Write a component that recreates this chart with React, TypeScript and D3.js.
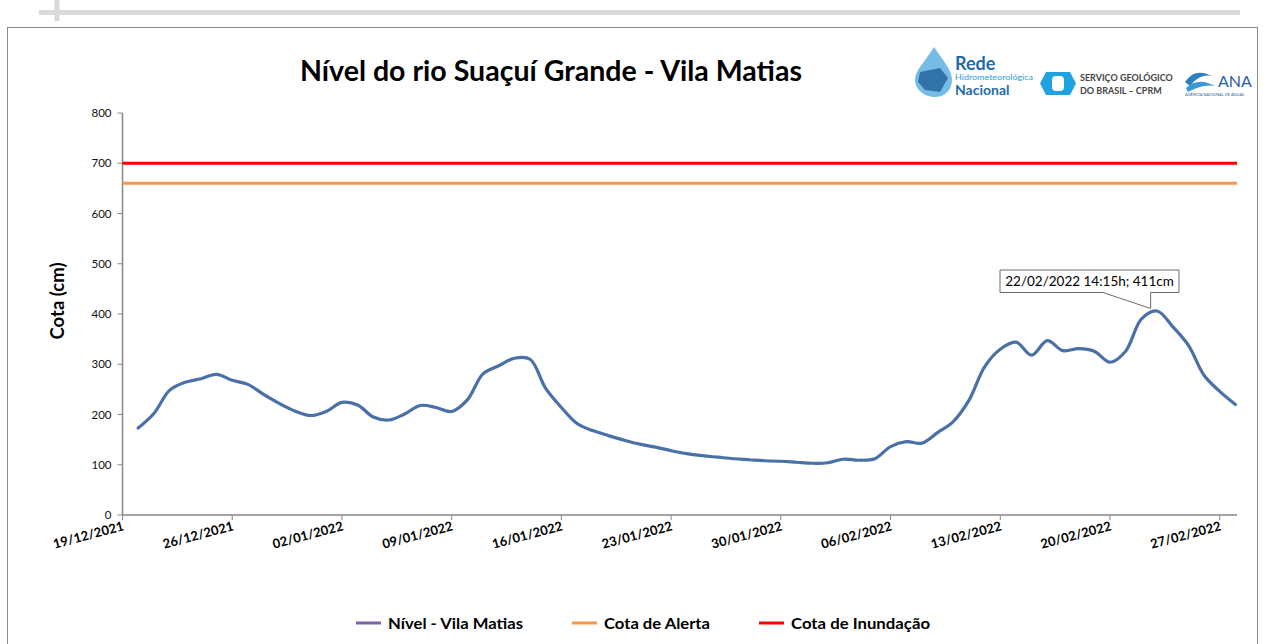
import React from "react";
import * as d3 from "d3";

const dates: string[] = [
  "20/12/2021","21/12/2021","22/12/2021","23/12/2021","24/12/2021","25/12/2021","26/12/2021","27/12/2021","28/12/2021","29/12/2021","30/12/2021","31/12/2021",
  "01/01/2022","02/01/2022","03/01/2022","04/01/2022","05/01/2022","06/01/2022","07/01/2022","08/01/2022","09/01/2022","10/01/2022","11/01/2022","12/01/2022","13/01/2022","14/01/2022","15/01/2022","16/01/2022","17/01/2022","18/01/2022","19/01/2022","20/01/2022","21/01/2022","22/01/2022","23/01/2022","24/01/2022","25/01/2022","26/01/2022","27/01/2022","28/01/2022","29/01/2022","30/01/2022","31/01/2022",
  "01/02/2022","02/02/2022","03/02/2022","04/02/2022","05/02/2022","06/02/2022","07/02/2022","08/02/2022","09/02/2022","10/02/2022","11/02/2022","12/02/2022","13/02/2022","14/02/2022","15/02/2022","16/02/2022","17/02/2022","18/02/2022","19/02/2022","20/02/2022","21/02/2022","22/02/2022","23/02/2022","24/02/2022","25/02/2022","26/02/2022","27/02/2022","28/02/2022",
];
const nivel: number[] = [
  173, 202, 248, 264, 271, 280, 268, 260, 240, 222, 207, 198,
  206, 224, 219, 195, 189, 201, 218, 214, 206, 229, 281, 297, 312, 310, 252, 214, 182, 168, 158, 149, 141, 135, 128, 122, 118, 115, 112, 110, 108, 107, 105,
  103, 104, 111, 109, 112, 136, 146, 143, 164, 186, 228, 295, 330, 344, 318, 347, 327, 331, 326, 304, 326, 390, 406, 375, 338, 278, 246, 220,
];
const cotaAlerta = 660;
const cotaInundacao = 700;
const yTicks: number[] = [0, 100, 200, 300, 400, 500, 600, 700, 800];
const xTickLabels: string[] = ["19/12/2021","26/12/2021","02/01/2022","09/01/2022","16/01/2022","23/01/2022","30/01/2022","06/02/2022","13/02/2022","20/02/2022","27/02/2022"];
const domainEnd = "28/02/2022 02:30";
const peakLabel = "22/02/2022 14:15h; 411cm";
const peakTime = "22/02/2022 14:15";
const peakValue = 411;
const legendItems = [
  { label: "Nível - Vila Matias", color: "#7F63A6" },
  { label: "Cota de Alerta", color: "#F79646" },
  { label: "Cota de Inundação", color: "#FF0000" },
];

const FONT = "Lato, 'Open Sans', sans-serif";

export default function App() {
  const parseD = d3.timeParse("%d/%m/%Y");
  const parseDT = d3.timeParse("%d/%m/%Y %H:%M");
  const fmt = d3.timeFormat("%d/%m/%Y");
  const x = d3.scaleTime()
    .domain([parseD(xTickLabels[0]) as Date, parseDT(domainEnd) as Date])
    .range([122.5, 1237]);
  const y = d3.scaleLinear().domain([0, 800]).range([515, 113]);
  const pts = dates.map((d, i) => [x(parseD(d) as Date), y(nivel[i])] as [number, number]);
  const line = d3.line().curve(d3.curveCatmullRom.alpha(0.5))(pts) || "";
  const xTicks = xTickLabels.map((s) => parseD(s) as Date);
  const x0 = x.range()[0], x1 = x.range()[1];

  const px = x(parseDT(peakTime) as Date);
  const py = y(peakValue);
  const bx0 = 1000, bx1 = 1179, by0 = 270, by1 = 292.5;
  const wedgeL = 1103;
  const calloutPath = `M${bx0},${by0} H${bx1} V${by1} H${px} L${px},${py} L${wedgeL},${by1} H${bx0} Z`;

  const legendX = [356, 572, 759];
  const legendLen = [135, 106, 139];

  return (
    <svg width={1273} height={644} style={{ position: "absolute", left: 0, top: 0, display: "block", background: "#fff" }}>
      {/* decorative top lines */}
      <line x1={39} x2={1240} y1={12.5} y2={12.5} stroke="#d9d9d9" strokeWidth={5} />
      <line x1={57} x2={57} y1={0} y2={21} stroke="#d9d9d9" strokeWidth={5} />
      {/* frame */}
      <rect x={7.5} y={27.5} width={1250} height={640} fill="#fff" stroke="#8a8a8a" strokeWidth={1} />

      {/* title */}
      <text x={300} y={81} textLength={502} lengthAdjust="spacingAndGlyphs" fontFamily={FONT} fontWeight="bold" fontSize={28} fill="#000">
        Nível do rio Suaçuí Grande - Vila Matias
      </text>

      {/* logos */}
      <g>
        <path d="M934,47 C925,62 915,70 915,80 C915,90 925,97 935,97 C945,97 952,90 952,80 C952,70 944,62 934,47 Z" fill="#5fb0e0" opacity={0.85} />
        <path d="M920,72 L940,68 L948,78 L940,92 L925,90 L918,82 Z" fill="#1f5f9a" opacity={0.8} />
        <text x={955} y={70} fontFamily={FONT} fontWeight="bold" fontSize={18} fill="#1f6aa8">Rede</text>
        <text x={955} y={79.5} textLength={78} lengthAdjust="spacingAndGlyphs" fontFamily={FONT} fontSize={7.5} fill="#2aa0d8">Hidrometeorológica</text>
        <text x={955} y={95} fontFamily={FONT} fontWeight="bold" fontSize={14} fill="#1f6aa8">Nacional</text>
        <path d="M1046,72 L1070,72 L1076,83.5 L1070,95 L1046,95 L1040,83.5 Z" fill="#1fa3e0" />
        <rect x={1052} y={76} width={12} height={15} rx={4} fill="#fff" />
        <text x={1080} y={81} fontFamily={FONT} fontWeight="bold" fontSize={9} fill="#444">SERVIÇO GEOLÓGICO</text>
        <text x={1080} y={94} fontFamily={FONT} fontWeight="bold" fontSize={9} fill="#444">DO BRASIL – CPRM</text>
        <path d="M1185,82 C1192,72 1200,70 1212,76 C1204,74 1196,78 1190,86 Z" fill="#2f7fc0" />
        <path d="M1186,88 C1195,80 1203,80 1215,86 C1205,84 1196,88 1188,92 Z" fill="#3a9ad8" />
        <text x={1218} y={87} fontFamily={FONT} fontSize={16} fill="#2a5fa0">ANA</text>
        <text x={1185} y={96} fontFamily={FONT} fontSize={4} fill="#2a5fa0">AGÊNCIA NACIONAL DE ÁGUAS</text>
      </g>

      {/* y axis */}
      <line x1={x0} x2={x0} y1={y(800)} y2={y(0)} stroke="#868686" strokeWidth={1.5} />
      {yTicks.map((t) => (
        <g key={t}>
          <line x1={x0 - 5} x2={x0} y1={y(t)} y2={y(t)} stroke="#868686" strokeWidth={1} />
          <text x={x0 - 11} y={y(t) + 4} textAnchor="end" fontFamily={FONT} fontSize={11.5} fill="#111">{t}</text>
        </g>
      ))}
      <text transform={`translate(64,301) rotate(-90)`} textAnchor="middle" fontFamily={FONT} fontWeight="bold" fontSize={18.5} fill="#000">Cota (cm)</text>

      {/* x axis */}
      <line x1={x0} x2={x1} y1={y(0)} y2={y(0)} stroke="#868686" strokeWidth={1.5} />
      {xTicks.map((t, i) => (
        <g key={i}>
          <line x1={x(t)} x2={x(t)} y1={y(0)} y2={y(0) + 5} stroke="#868686" strokeWidth={1} />
          <text transform={`translate(${x(t) + 2},${y(0) + 15}) rotate(-15)`} textAnchor="end" fontFamily={FONT} fontWeight="bold" fontSize={13} fill="#000">{fmt(t)}</text>
        </g>
      ))}

      {/* threshold lines */}
      <line x1={x0} x2={x1} y1={y(cotaInundacao)} y2={y(cotaInundacao)} stroke="#FF0000" strokeWidth={3} />
      <line x1={x0} x2={x1} y1={y(cotaAlerta)} y2={y(cotaAlerta)} stroke="#F79646" strokeWidth={3} />

      {/* series */}
      <path d={line} fill="none" stroke="#4A70A8" strokeWidth={3.2} strokeLinejoin="round" strokeLinecap="round" />

      {/* callout */}
      <path d={calloutPath} fill="#fff" stroke="#6a6a6a" strokeWidth={1} />
      <text x={(bx0 + bx1) / 2} y={286} textAnchor="middle" fontFamily={FONT} fontSize={13.5} fill="#000">{peakLabel}</text>

      {/* legend */}
      {legendItems.map((it, i) => (
        <g key={i}>
          <line x1={legendX[i]} x2={legendX[i] + 25} y1={623} y2={623} stroke={it.color} strokeWidth={3} />
          <text x={legendX[i] + 32} y={628.5} textLength={legendLen[i]} lengthAdjust="spacingAndGlyphs" fontFamily={FONT} fontWeight="bold" fontSize={16} fill="#000">{it.label}</text>
        </g>
      ))}
    </svg>
  );
}
